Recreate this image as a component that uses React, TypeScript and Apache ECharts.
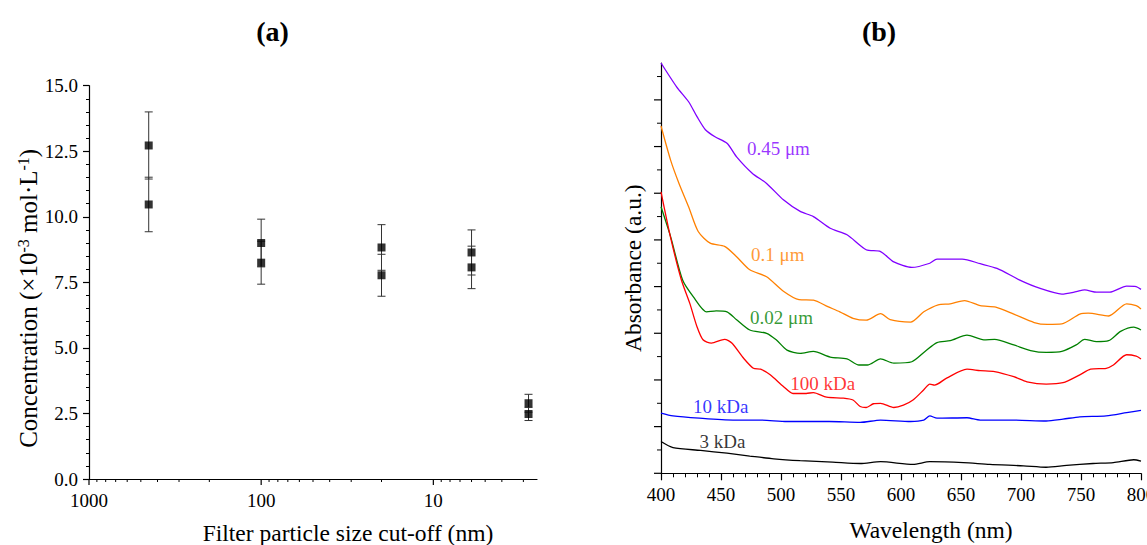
import React, { useEffect, useRef } from "react";
import * as echarts from "echarts";

const FONT = "'Liberation Serif', 'Times New Roman', Times, serif";

// ---------- Panel (a) data ----------
const cutoffNm = [450, 450, 100, 100, 20, 20, 6, 6, 2.8, 2.8];
const concentration = [12.72, 10.47, 9.0, 8.25, 8.83, 7.77, 8.64, 8.07, 2.89, 2.48];
const concError = [1.28, 1.04, 0.91, 0.82, 0.87, 0.8, 0.86, 0.81, 0.34, 0.25];
const logMajorTicks = [1000, 100, 10];
const logMinorTicks = [900, 800, 700, 600, 500, 400, 300, 200, 90, 80, 70, 60, 50, 40, 30, 20, 9, 8, 7, 6, 5, 4, 3];

// ---------- Panel (b) data ----------
const wl045 = [400, 413, 423, 430, 437, 445, 455, 463, 476, 488, 502, 516, 527, 541, 555, 571, 583, 594, 609, 624, 630, 651, 666, 680, 699, 716, 734, 746, 753, 763, 774, 788, 796, 800];
const abs045 = [0.879, 0.828, 0.796, 0.764, 0.736, 0.721, 0.707, 0.678, 0.643, 0.621, 0.586, 0.561, 0.55, 0.525, 0.511, 0.479, 0.475, 0.453, 0.441, 0.45, 0.459, 0.459, 0.449, 0.439, 0.414, 0.396, 0.384, 0.389, 0.393, 0.388, 0.388, 0.401, 0.4, 0.394];

const wl01 = [400, 408, 415, 423, 431, 441, 453, 463, 474, 488, 502, 515, 527, 539, 549, 560, 571, 583, 591, 608, 619, 631, 641, 653, 666, 679, 694, 711, 722, 734, 749, 756, 773, 788, 796, 800];
const abs01 = [0.744, 0.671, 0.621, 0.571, 0.518, 0.493, 0.486, 0.464, 0.436, 0.421, 0.39, 0.372, 0.371, 0.357, 0.346, 0.332, 0.328, 0.342, 0.329, 0.324, 0.346, 0.361, 0.363, 0.37, 0.359, 0.356, 0.341, 0.323, 0.319, 0.32, 0.341, 0.343, 0.337, 0.363, 0.359, 0.352];

const wl002 = [400, 408, 418, 427, 438, 446, 455, 463, 474, 488, 496, 505, 516, 527, 541, 555, 565, 572, 583, 594, 609, 620, 630, 641, 655, 669, 678, 694, 708, 721, 734, 746, 753, 763, 773, 783, 794, 800];
const abs002 = [0.571, 0.507, 0.414, 0.378, 0.346, 0.348, 0.346, 0.329, 0.307, 0.3, 0.286, 0.264, 0.257, 0.261, 0.249, 0.245, 0.232, 0.232, 0.245, 0.236, 0.239, 0.261, 0.28, 0.284, 0.296, 0.286, 0.287, 0.275, 0.263, 0.259, 0.261, 0.275, 0.287, 0.282, 0.284, 0.304, 0.313, 0.307];

const wl100k = [400, 408, 417, 424, 430, 435, 442, 453, 459, 469, 477, 483, 491, 502, 510, 521, 527, 538, 552, 560, 566, 571, 577, 583, 594, 602, 610, 619, 624, 628, 638, 655, 666, 678, 694, 705, 721, 735, 749, 758, 771, 777, 788, 796, 800];
const abs100k = [0.603, 0.505, 0.414, 0.364, 0.314, 0.286, 0.279, 0.287, 0.279, 0.246, 0.225, 0.223, 0.211, 0.186, 0.171, 0.171, 0.173, 0.163, 0.161, 0.157, 0.143, 0.141, 0.149, 0.15, 0.141, 0.146, 0.157, 0.179, 0.191, 0.189, 0.204, 0.223, 0.22, 0.218, 0.207, 0.196, 0.191, 0.194, 0.211, 0.223, 0.225, 0.232, 0.254, 0.251, 0.245];

const wl10k = [400, 410, 432, 460, 483, 505, 540, 566, 583, 608, 619, 624, 630, 655, 666, 694, 721, 735, 749, 771, 788, 800];
const abs10k = [0.129, 0.123, 0.118, 0.114, 0.114, 0.111, 0.111, 0.109, 0.114, 0.111, 0.114, 0.123, 0.118, 0.119, 0.114, 0.114, 0.112, 0.116, 0.121, 0.123, 0.13, 0.135];

const wl3k = [400, 410, 433, 455, 474, 494, 516, 543, 566, 583, 610, 624, 652, 674, 702, 721, 738, 760, 777, 794, 800];
const abs3k = [0.068, 0.055, 0.049, 0.043, 0.037, 0.031, 0.027, 0.024, 0.021, 0.025, 0.019, 0.025, 0.023, 0.019, 0.016, 0.013, 0.017, 0.021, 0.023, 0.029, 0.026];

const curveNames = ["0.45 μm", "0.1 μm", "0.02 μm", "100 kDa", "10 kDa", "3 kDa"];
const curveColors = ["#8000FF", "#FF8000", "#008000", "#FF0000", "#0000FF", "#000000"];
const curveWl = [wl045, wl01, wl002, wl100k, wl10k, wl3k];
const curveAbs = [abs045, abs01, abs002, abs100k, abs10k, abs3k];
const labelWl = [497.8, 497.3, 500.4, 534.8, 449.8, 451.3];
const labelAbs = [0.696, 0.468, 0.333, 0.193, 0.143, 0.068];

const absMajorTicks = [0, 0.1, 0.2, 0.3, 0.4, 0.5, 0.6, 0.7, 0.8];
const absMinorTicks = [0.05, 0.15, 0.25, 0.35, 0.45, 0.55, 0.65, 0.75, 0.85];

export default function App() {
  const ref = useRef<HTMLDivElement>(null);

  useEffect(() => {
    if (!ref.current) return;
    const chart = echarts.init(ref.current, undefined, { renderer: "svg" });

    const axisLineStyle = { color: "#000", width: 1.2 };
    const labelStyle = { color: "#000", fontSize: 19, fontFamily: FONT };
    const nameStyleBase = { color: "#000", fontSize: 23.5, fontFamily: FONT };

    const logTickData = [
      ...logMajorTicks.map((v) => [v, 1]),
      ...logMinorTicks.map((v) => [v, 0]),
    ];
    const absTickData = [
      ...absMajorTicks.map((v) => [400, v, 1]),
      ...absMinorTicks.map((v) => [400, v, 0]),
    ];

    const lineSeries = curveNames.map((name, i) => ({
      type: "line",
      name,
      xAxisIndex: 1,
      yAxisIndex: 1,
      data: curveWl[i].map((w, j) => [w, curveAbs[i][j]]),
      showSymbol: false,
      symbol: "none",
      smooth: 0.25,
      lineStyle: { color: curveColors[i], width: 1.3 },
      itemStyle: { color: curveColors[i] },
      silent: true,
      z: 3,
    }));

    const option: any = {
      animation: false,
      backgroundColor: "#fff",
      textStyle: { fontFamily: FONT },
      graphic: [
        {
          type: "text",
          x: 272.5,
          y: 31,
          style: { text: "(a)", fill: "#000", font: `bold 28px ${FONT}`, align: "center", verticalAlign: "middle" },
        },
        {
          type: "text",
          x: 879,
          y: 31,
          style: { text: "(b)", fill: "#000", font: `bold 28px ${FONT}`, align: "center", verticalAlign: "middle" },
        },
      ],
      grid: [
        { left: 89, top: 85.7, width: 448, height: 393.3, containLabel: false, outerBoundsMode: "none" },
        { left: 661, top: 63, width: 480, height: 410.3, containLabel: false, outerBoundsMode: "none" },
      ],
      xAxis: [
        {
          gridIndex: 0,
          type: "log",
          logBase: 10,
          min: 2.5,
          max: 1000,
          inverse: true,
          axisLine: { lineStyle: axisLineStyle },
          axisTick: { show: false },
          splitLine: { show: false },
          axisLabel: {
            ...labelStyle,
            margin: 12,
            formatter: (v: number) => {
              const m = logMajorTicks.find((p) => Math.abs(v - p) < p * 1e-6);
              return m ? String(m) : "";
            },
          },
          name: "Filter particle size cut-off (nm)",
          nameLocation: "middle",
          nameGap: 42,
          nameTextStyle: { ...nameStyleBase, padding: [0, 0, 0, 70] },
        },
        {
          gridIndex: 1,
          type: "value",
          min: 400,
          max: 800,
          interval: 50,
          axisLine: { lineStyle: axisLineStyle },
          axisTick: { show: true, length: 7, lineStyle: { color: "#000", width: 1.2 } },
          minorTick: { show: true, splitNumber: 5, length: 4, lineStyle: { color: "#000", width: 1 } },
          splitLine: { show: false },
          axisLabel: { ...labelStyle, margin: 12, showMaxLabel: true },
          name: "Wavelength (nm)",
          nameLocation: "middle",
          nameGap: 45,
          nameTextStyle: { ...nameStyleBase, padding: [0, 0, 0, 60] },
        },
      ],
      yAxis: [
        {
          gridIndex: 0,
          type: "value",
          min: 0,
          max: 15,
          interval: 2.5,
          axisLine: { show: true, lineStyle: axisLineStyle },
          axisTick: { show: true, length: 6, lineStyle: { color: "#000", width: 1.2 } },
          minorTick: { show: true, splitNumber: 5, length: 3, lineStyle: { color: "#000", width: 1 } },
          splitLine: { show: false },
          axisLabel: { ...labelStyle, margin: 11, formatter: (v: number) => v.toFixed(1) },
          name: "{n|Concentration (×10}{s|-3}{n| mol·L}{s|-1}{n|)}",
          nameLocation: "middle",
          nameGap: 47,
          nameTextStyle: {
            ...nameStyleBase,
            padding: [0, 32, 0, 0],
            rich: {
              n: { fontSize: 25, fontFamily: FONT, color: "#000", verticalAlign: "bottom", lineHeight: 25 },
              s: { fontSize: 16, fontFamily: FONT, color: "#000", verticalAlign: "top", lineHeight: 25 },
            },
          },
        },
        {
          gridIndex: 1,
          type: "value",
          min: 0,
          max: 0.879,
          axisLine: { show: true, lineStyle: axisLineStyle },
          axisTick: { show: false },
          axisLabel: { show: false },
          splitLine: { show: false },
          name: "Absorbance (a.u.)",
          nameLocation: "middle",
          nameGap: 16,
          nameTextStyle: { ...nameStyleBase },
        },
      ],
      series: [
        {
          type: "custom",
          xAxisIndex: 0,
          yAxisIndex: 0,
          clip: false,
          silent: true,
          data: logTickData,
          renderItem: (_p: any, api: any) => {
            const p = api.coord([api.value(0), 0]);
            const len = api.value(1) ? 6 : 3;
            return {
              type: "line",
              shape: { x1: p[0], y1: p[1], x2: p[0], y2: p[1] + len },
              style: { stroke: "#000", lineWidth: api.value(1) ? 1.2 : 1 },
            };
          },
        },
        {
          type: "custom",
          xAxisIndex: 0,
          yAxisIndex: 0,
          clip: false,
          silent: true,
          data: cutoffNm.map((x, i) => [x, concentration[i] - concError[i], concentration[i] + concError[i]]),
          encode: { x: 0, y: [1, 2] },
          renderItem: (_p: any, api: any) => {
            const x = api.value(0);
            const lo = api.coord([x, api.value(1)]);
            const hi = api.coord([x, api.value(2)]);
            const hw = 4;
            const st = { stroke: "#333", lineWidth: 1 };
            return {
              type: "group",
              children: [
                { type: "line", shape: { x1: lo[0], y1: lo[1], x2: hi[0], y2: hi[1] }, style: st },
                { type: "line", shape: { x1: lo[0] - hw, y1: lo[1], x2: lo[0] + hw, y2: lo[1] }, style: st },
                { type: "line", shape: { x1: hi[0] - hw, y1: hi[1], x2: hi[0] + hw, y2: hi[1] }, style: st },
              ],
            };
          },
          z: 2,
        },
        {
          type: "scatter",
          xAxisIndex: 0,
          yAxisIndex: 0,
          symbol: "rect",
          symbolSize: 8,
          itemStyle: { color: "#000" },
          silent: true,
          data: cutoffNm.map((x, i) => [x, concentration[i]]),
          z: 4,
        },
        {
          type: "custom",
          xAxisIndex: 1,
          yAxisIndex: 1,
          clip: false,
          silent: true,
          data: absTickData,
          renderItem: (_p: any, api: any) => {
            const p = api.coord([api.value(0), api.value(1)]);
            const len = api.value(2) ? 7 : 4;
            return {
              type: "line",
              shape: { x1: p[0] - len, y1: p[1], x2: p[0], y2: p[1] },
              style: { stroke: "#000", lineWidth: api.value(2) ? 1.2 : 1 },
            };
          },
        },
        ...lineSeries,
        {
          type: "scatter",
          xAxisIndex: 1,
          yAxisIndex: 1,
          symbolSize: 0,
          silent: true,
          z: 5,
          data: curveNames.map((name, i) => ({
            value: [labelWl[i], labelAbs[i]],
            label: {
              show: true,
              position: "inside",
              formatter: name,
              color: curveColors[i],
              fontSize: 19,
              fontFamily: FONT,
            },
          })),
        },
      ],
    };

    chart.setOption(option);
    return () => chart.dispose();
  }, []);

  return (
    <div
      ref={ref}
      style={{ position: "fixed", left: 0, top: 0, width: 1147, height: 545, background: "#fff" }}
    />
  );
}
